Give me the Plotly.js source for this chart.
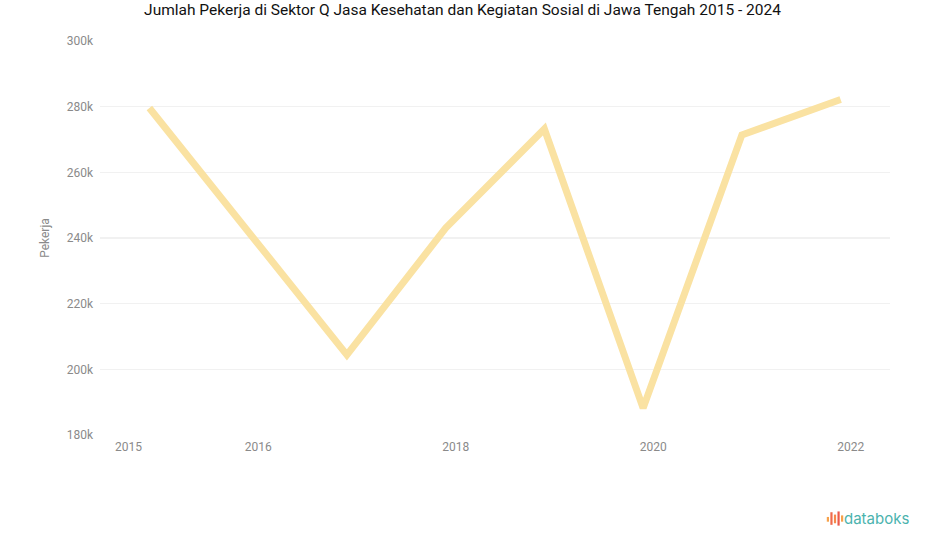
<!DOCTYPE html>
<html><head><meta charset="utf-8">
<script src="https://cdn.plot.ly/plotly-3.0.1.min.js"></script>
<style>html,body{margin:0;padding:0;background:#fff}#chart{width:925px;height:547px}</style>
</head><body><div id="chart"></div>
<script>
// ---- data ----
const years = [2015, 2016, 2017, 2018, 2019, 2020, 2021, 2022];
const workers = [279600, 242000, 204400, 243000, 273200, 188200, 271400, 282200];
const xTickVals = [2016, 2018, 2020, 2022];
const xTickText = ['2016', '2018', '2020', '2022'];
const xFirstTickVals = [2015];
const xFirstTickText = ['2015'];
const yTickVals = [180000, 200000, 220000, 240000, 260000, 280000, 300000];
const yTickText = ['180k', '200k', '220k', '240k', '260k', '280k', '300k'];
const titleText = 'Jumlah Pekerja di Sektor Q Jasa Kesehatan dan Kegiatan Sosial di Jawa Tengah 2015 - 2024';
const yTitleText = 'Pekerja';
const brandText = 'databoks';

// ---- chart ----
const xRange = [years[0] - 0.5, years[years.length - 1] + 0.5];
const yRange = [yTickVals[0], yTickVals[yTickVals.length - 1]];
const tickFont = {family: 'Roboto, Arial, sans-serif', size: 12, color: '#8a8a8a'};

const traces = [
  {x: years, y: workers, type: 'scatter', mode: 'lines',
   line: {color: '#fae2a2', width: 7}, hoverinfo: 'skip', showlegend: false},
  {x: years, y: workers, type: 'scatter', mode: 'none', xaxis: 'x2',
   hoverinfo: 'skip', showlegend: false}
];

const iconBars = [
  {x0: 0.9200, h0: -0.208, h1: -0.220, c: '#f7a24b'},
  {x0: 0.9245, h0: -0.196, h1: -0.228, c: '#ef6a4c'},
  {x0: 0.9290, h0: -0.202, h1: -0.224, c: '#f58a4a'},
  {x0: 0.9335, h0: -0.194, h1: -0.230, c: '#ec5a4a'},
  {x0: 0.9380, h0: -0.204, h1: -0.220, c: '#f7a24b'}
];
const shapes = iconBars.map(b => ({
  type: 'rect', xref: 'paper', yref: 'paper',
  x0: b.x0, x1: b.x0 + 0.0028, y0: b.h1, y1: b.h0,
  fillcolor: b.c, line: {width: 0}
}));

const layout = {
  width: 925, height: 547,
  margin: {l: 100, r: 35, t: 41, b: 112},
  paper_bgcolor: '#ffffff', plot_bgcolor: '#ffffff',
  font: {family: 'Roboto, Arial, sans-serif'},
  title: {text: titleText, x: 0.5, xanchor: 'center', y: 0.982, yanchor: 'middle',
          font: {family: 'Roboto, Arial, sans-serif', size: 15.5, color: '#111111'}},
  xaxis: {range: xRange, tickvals: xTickVals, ticktext: xTickText, showgrid: false,
          zeroline: false, showline: false, ticks: '', tickfont: tickFont,
          ticklabelshift: 10, ticklabelstandoff: 3, fixedrange: true},
  xaxis2: {range: xRange, overlaying: 'x', anchor: 'y', side: 'bottom',
           tickvals: xFirstTickVals, ticktext: xFirstTickText, showgrid: false,
           zeroline: false, showline: false, ticks: '', tickfont: tickFont,
           ticklabelshift: -21, ticklabelstandoff: 3, fixedrange: true},
  yaxis: {range: yRange, tickvals: yTickVals, ticktext: yTickText,
          showgrid: true, gridcolor: '#f1f1f1', gridwidth: 1.5,
          zeroline: false, showline: false, ticks: '', tickfont: tickFont,
          ticklabelstandoff: 6,
          title: {text: yTitleText, standoff: 14,
                  font: {family: 'Roboto, Arial, sans-serif', size: 12, color: '#8a8a8a'}},
          fixedrange: true},
  shapes: shapes,
  annotations: [
    {text: brandText, xref: 'paper', yref: 'paper', x: 1.026, y: -0.212,
     xanchor: 'right', yanchor: 'middle', showarrow: false,
     font: {family: 'Inter, Roboto, sans-serif', size: 15, color: '#4bb3ae'}}
  ]
};

Plotly.newPlot('chart', traces, layout, {staticPlot: true, displayModeBar: false});
</script>
</body></html>
